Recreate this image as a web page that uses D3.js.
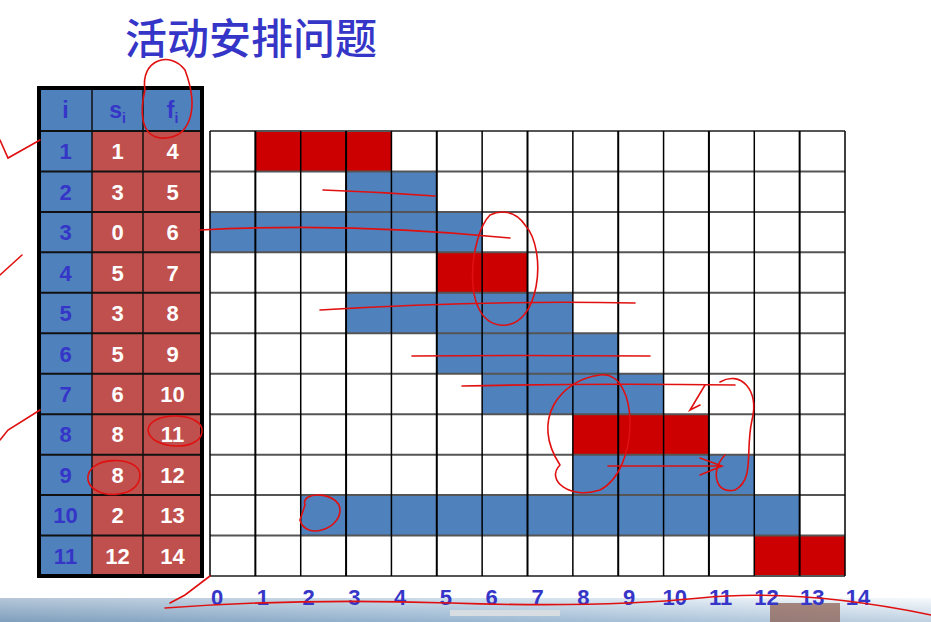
<!DOCTYPE html>
<html><head><meta charset="utf-8">
<script src="https://cdn.jsdelivr.net/npm/d3@7"></script>
<style>html,body{margin:0;padding:0;background:#fff;overflow:hidden}</style>
</head><body>
<svg id="chart" width="931" height="622"></svg>
<script>
const title = "活动安排问题";
const ids = [1,2,3,4,5,6,7,8,9,10,11];
const starts = [1,3,0,5,3,5,6,8,8,2,12];
const finishes = [4,5,6,7,8,9,10,11,12,13,14];
const selected = [1,4,8,11];
const ticks = [0,1,2,3,4,5,6,7,8,9,10,11,12,13,14];

const svg = d3.select("#chart");
const BLUE = "#4f81bd", RED = "#cc0000", TRED = "#c0504d", TXTBLUE = "#3535c8";

// bottom photo strip
const defs = svg.append("defs");
const g1 = defs.append("linearGradient").attr("id","sky").attr("x1",0).attr("y1",0).attr("x2",0).attr("y2",1);
g1.append("stop").attr("offset","0%").attr("stop-color","#eef4fa");
g1.append("stop").attr("offset","100%").attr("stop-color","#7fa3c4");
const g2 = defs.append("linearGradient").attr("id","fade").attr("x1",0).attr("y1",0).attr("x2",1).attr("y2",0);
g2.append("stop").attr("offset","0%").attr("stop-color","#6f8fae");
g2.append("stop").attr("offset","50%").attr("stop-color","#a9c3da");
g2.append("stop").attr("offset","100%").attr("stop-color","#ffffff");
svg.append("rect").attr("x",0).attr("y",598).attr("width",931).attr("height",24).attr("fill","url(#fade)").attr("opacity",0.9);
svg.append("rect").attr("x",0).attr("y",598).attr("width",931).attr("height",24).attr("fill","url(#sky)").attr("opacity",0.5);
svg.append("rect").attr("x",770).attr("y",603).attr("width",70).attr("height",19).attr("fill","#8a5a4a").attr("opacity",0.7);
svg.append("rect").attr("x",450).attr("y",610).attr("width",110).attr("height",6).attr("fill","#d8dde2");

// title
svg.append("text").attr("x",125).attr("y",54).attr("font-family","'Noto Sans CJK SC'")
  .attr("font-size",42).attr("fill",TXTBLUE).attr("font-weight",500).text(title);

// grid scales
const x = d3.scaleLinear().domain([0,14]).range([210,845]);
const y = d3.scaleBand().domain(ids).range([131,576]);
const xl = d3.scaleLinear().domain([0,14]).range([217,858]);

// bars
svg.append("g").selectAll("rect").data(ids).join("rect")
  .attr("x",(d,i)=>x(starts[i])).attr("y",d=>y(d))
  .attr("width",(d,i)=>x(finishes[i])-x(starts[i])).attr("height",y.bandwidth())
  .attr("fill",d=>selected.includes(d)?RED:BLUE);

// grid lines
const grid = svg.append("g");
grid.selectAll("line.h").data(d3.range(12)).join("line")
  .attr("x1",210).attr("x2",845)
  .attr("y1",i=>131+i*y.step()).attr("y2",i=>131+i*y.step())
  .attr("stroke","#555").attr("stroke-width",2);
grid.selectAll("line.v").data(ticks).join("line")
  .attr("x1",d=>x(d)).attr("x2",d=>x(d)).attr("y1",131).attr("y2",576)
  .attr("stroke","#000").attr("stroke-width",d=>(d%2===1)?2:1.5);

// axis labels
svg.append("g").selectAll("text").data(ticks).join("text")
  .attr("x",d=>xl(d)).attr("y",605).attr("text-anchor","middle")
  .attr("font-family","Arial, 'Liberation Sans'").attr("font-weight","bold")
  .attr("font-size",22).attr("fill",TXTBLUE).text(d=>d);

// table
const colX = [39,92,143,202];
const tHeadTop = 88;
const tb = svg.append("g");
// header
for (let c=0;c<3;c++){
  tb.append("rect").attr("x",colX[c]).attr("y",tHeadTop).attr("width",colX[c+1]-colX[c]).attr("height",131-tHeadTop).attr("fill",BLUE);
}
const hdr = [["i",""],["s","i"],["f","i"]];
hdr.forEach((h,c)=>{
  const t = tb.append("text").attr("x",(colX[c]+colX[c+1])/2).attr("y",118).attr("text-anchor","middle")
    .attr("font-family","Arial, 'Liberation Sans'").attr("font-weight","bold").attr("font-size",23).attr("fill",TXTBLUE);
  t.append("tspan").text(h[0]);
  if (h[1]) t.append("tspan").attr("font-size",14).attr("dy",5).text(h[1]);
});
// rows
const cols = [ids, starts, finishes];
ids.forEach((d,r)=>{
  for (let c=0;c<3;c++){
    tb.append("rect").attr("x",colX[c]).attr("y",y(d)).attr("width",colX[c+1]-colX[c]).attr("height",y.bandwidth())
      .attr("fill",c===0?BLUE:TRED);
    tb.append("text").attr("x",(colX[c]+colX[c+1])/2).attr("y",y(d)+y.bandwidth()/2+8).attr("text-anchor","middle")
      .attr("font-family","Arial, 'Liberation Sans'").attr("font-weight","bold").attr("font-size",22)
      .attr("fill",c===0?TXTBLUE:"#ffffff").text(cols[c][r]);
  }
});
// table lines
tb.selectAll("line.th").data(d3.range(13)).join("line")
  .attr("x1",colX[0]).attr("x2",colX[3])
  .attr("y1",i=>i===0?tHeadTop:131+(i-1)*y.step()).attr("y2",i=>i===0?tHeadTop:131+(i-1)*y.step())
  .attr("stroke","#111").attr("stroke-width",2);
tb.selectAll("line.tv").data([1,2]).join("line")
  .attr("x1",c=>colX[c]).attr("x2",c=>colX[c]).attr("y1",tHeadTop).attr("y2",576)
  .attr("stroke","#111").attr("stroke-width",1.5);
tb.append("rect").attr("x",colX[0]).attr("y",tHeadTop).attr("width",colX[3]-colX[0]).attr("height",576-tHeadTop)
  .attr("fill","none").attr("stroke","#000").attr("stroke-width",4);

// hand-drawn annotations
const ann = svg.append("g").attr("fill","none").attr("stroke","#e01010").attr("stroke-width",1.6).attr("stroke-linecap","round");
const paths = [
  "M0,140 L8,158 L40,140",
  "M0,275 L22,255",
  "M0,440 L8,430 L40,410",
  "M165,608 Q300,598 450,603 T700,598 T931,615",
  "M170,603 L185,595 L210,576",
  "M145,90 C140,60 170,50 185,70 C200,110 190,140 160,138 C140,135 140,110 145,90",
  "M148,430 C150,410 205,412 202,432 C200,452 150,450 148,430",
  "M88,480 C85,455 140,455 140,475 C140,500 92,500 88,480",
  "M305,505 C300,490 340,492 340,510 C340,530 305,540 300,520 Z",
  "M490,215 C470,235 460,320 500,325 C540,330 548,250 525,225 C515,210 500,210 490,215",
  "M200,230 Q350,222 510,238",
  "M320,310 Q480,300 635,303",
  "M323,190 Q380,192 435,196",
  "M412,356 Q520,355 650,356",
  "M462,386 Q600,383 735,385",
  "M560,465 C530,420 560,380 600,375 C640,370 640,470 600,490 C570,500 545,480 560,465",
  "M608,466 L720,466 M700,458 L722,466 L700,475",
  "M720,382 C740,370 760,390 752,420 C745,450 755,480 735,490 C715,495 710,470 725,455",
  "M705,385 L690,410 L700,405"
];
ann.selectAll("path").data(paths).join("path").attr("d",d=>d);
</script>
</body></html>
